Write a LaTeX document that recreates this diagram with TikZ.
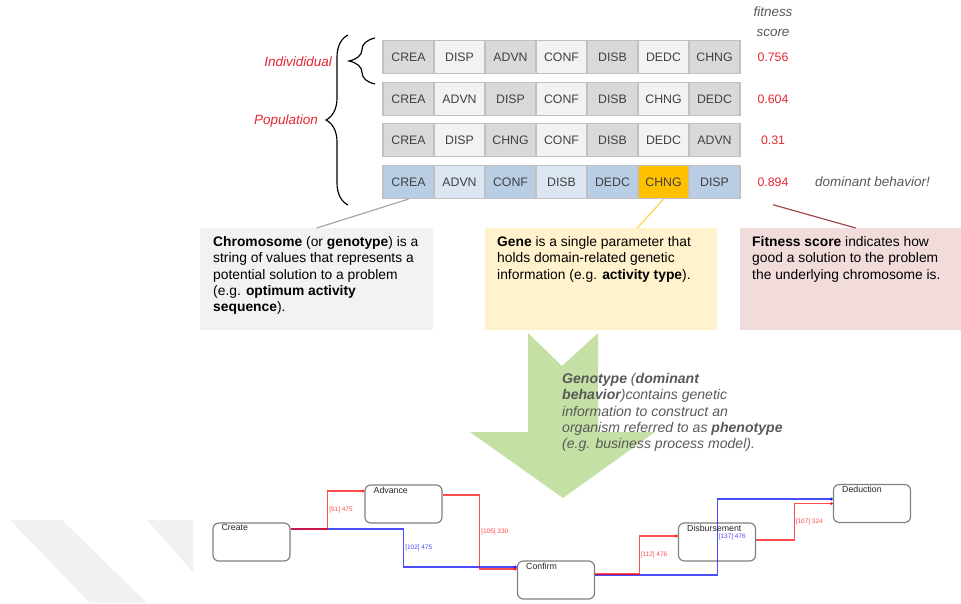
\documentclass[tikz,border=0pt]{standalone}
\usepackage{fontspec}
\setmainfont{Liberation Sans}
\usepackage{tikz}
\usetikzlibrary{positioning, decorations.pathreplacing, arrows.meta}
\definecolor{cdark}{HTML}{D9D9D9}
\definecolor{clight}{HTML}{F2F2F2}
\definecolor{cblue}{HTML}{B9CDE5}
\definecolor{cpale}{HTML}{DCE6F2}
\definecolor{corange}{HTML}{FFC000}
\definecolor{cellline}{HTML}{C0C0C0}
\definecolor{celltext}{HTML}{404040}
\definecolor{scorered}{RGB}{228,38,48}
\definecolor{notegray}{HTML}{595959}
\definecolor{chromfill}{HTML}{F2F2F2}
\definecolor{genefill}{HTML}{FFF2CC}
\definecolor{fitfill}{HTML}{F2DCDB}
\definecolor{geneline}{HTML}{FFD347}
\definecolor{fitline}{HTML}{A0454A}
\definecolor{arrowgreen}{RGB}{196,224,164}
\definecolor{actgray}{HTML}{808080}
\definecolor{stripe}{HTML}{F1F1F1}

\begin{document}
\begin{tikzpicture}[x=0.03cm, y=-0.03cm,
   cell/.style={draw=cellline, line width=1pt, minimum width=1.53cm, minimum height=0.99cm,
      inner sep=0pt, text=celltext, font=\fontsize{10.5}{12}\selectfont},
   score/.style={text=scorered, minimum height=0.99cm, inner sep=0pt, font=\fontsize{10.5}{12}\selectfont},
   note/.style={text=notegray, inner sep=0pt, font=\fontsize{11.5}{17}\selectfont\itshape},
   infobox/.style={anchor=north west, minimum height=3.06cm, inner sep=0pt},
   infotext/.style={anchor=north west, inner sep=0pt, align=left, font=\fontsize{11.8}{14}\selectfont},
   act/.style={draw=actgray, fill=white, line width=1pt, rounded corners=5pt,
      minimum width=2.31cm, minimum height=1.14cm, inner sep=0pt},
   actlbl/.style={anchor=north west, inner sep=0pt, xshift=.27cm, yshift=-.06cm,
      font=\fontsize{7.5}{8}\selectfont, text=black!85},
   flow/.style={line width=1pt, opacity=.7, -{Circle[length=2.5pt]}},
   flowlbl/.style={right, inner sep=1pt, font=\fontsize{5.5}{6}\selectfont},
   brace/.style={decorate, line width=1pt}]
\useasboundingbox (0,0) rectangle (961,603);

\fill[stripe] (10,520) -- (62,520) -- (147,603) -- (90,603) -- cycle;
\fill[stripe] (147,520) -- (193,520) -- (193,572) -- cycle;

\node[note, align=center] (fithead) at (773,22) {fitness\\score};

\foreach \g/\c [count=\i] in {CREA/cdark,DISP/clight,ADVN/cdark,CONF/clight,DISB/cdark,DEDC/clight,CHNG/cdark}
  \node[cell, fill=\c] (a\i) at ({357.5+51*\i},57) {\g};
\foreach \g/\c [count=\i] in {CREA/cdark,ADVN/clight,DISP/cdark,CONF/clight,DISB/cdark,CHNG/clight,DEDC/cdark}
  \node[cell, fill=\c] (b\i) at ({357.5+51*\i},99) {\g};
\foreach \g/\c [count=\i] in {CREA/cdark,DISP/clight,CHNG/cdark,CONF/clight,DISB/cdark,DEDC/clight,ADVN/cdark}
  \node[cell, fill=\c] (c\i) at ({357.5+51*\i},140) {\g};
\foreach \g/\c [count=\i] in {CREA/cblue,ADVN/cpale,CONF/cblue,DISB/cpale,DEDC/cblue,CHNG/corange,DISP/cblue}
  \node[cell, fill=\c] (d\i) at ({357.5+51*\i},182) {\g};

\node[score] (s1) at (773,57) {0.756};
\node[score] (s2) at (773,99) {0.604};
\node[score] (s3) at (773,140) {0.31};
\node[score] (s4) at (773,182) {0.894};
\node[note, anchor=west] (dominant) at (815,182) {dominant behavior!};

\draw[brace, decoration={brace, amplitude=.78cm, aspect=.5}] (375,84) -- (375,38);
\draw[brace, decoration={brace, amplitude=.66cm, aspect=.5}] (348,205) -- (348,35);
\node[note, text=scorered, anchor=east] (indiv) at (332,62) {Individidual};
\node[note, text=scorered, anchor=east] (popul) at (318,121) {Population};

\node[infobox, fill=chromfill, minimum width=6.99cm] (chrom) at (200,228) {};
\node[infobox, fill=genefill, minimum width=6.96cm] (gene) at (485,228) {};
\node[infobox, fill=fitfill, minimum width=6.63cm] (fit) at (740,228) {};
\node[infotext] (chromtxt) at (213,236) {\textbf{Chromosome} (or \textbf{genotype}) is a\\
   string of values that represents a\\potential solution to a problem\\
   (e.g. \textbf{optimum activity}\\\textbf{sequence}).};
\node[infotext] (genetxt) at (497,236) {\textbf{Gene} is a single parameter that\\
   holds domain-related genetic\\information (e.g. \textbf{activity type}).};
\node[infotext] (fittxt) at (752,236) {\textbf{Fitness score} indicates how\\
   good a solution to the problem\\the underlying chromosome is.};

\draw[gray!70, line width=1pt] (d1.south) -- (chrom.north);
\draw[geneline, line width=1pt] (d6.south) -- ([xshift=1.08cm]gene.north);
\draw[fitline, line width=1pt] ([yshift=-.18cm]s4.south) -- ([xshift=.15cm]fit.north);

\fill[arrowgreen] (528,333) -- (562,366) -- (598,333) -- (598,432) -- (655,432)
   -- (563,498) -- (470,432) -- (528,432) -- cycle;
\node[infotext, text=notegray, font=\fontsize{12}{13.9}\selectfont\itshape] (genotxt) at (562,373)
   {\textbf{Genotype} (\textbf{dominant}\\\textbf{behavior})contains genetic\\
   information to construct an\\organism referred to as \textbf{phenotype}\\
   (e.g. business process model).};

\node[act, label={[actlbl]north west:Create}] (create) at (251.5,542) {};
\node[act, label={[actlbl]north west:Advance}] (advance) at (403.5,504) {};
\node[act, label={[actlbl]north west:Confirm}] (confirm) at (556,580) {};
\node[act, label={[actlbl]north west:Disbursement}] (disb) at (717,542) {};
\node[act, label={[actlbl]north west:Deduction}] (deduct) at (872,503.5) {};

\draw[flow, blue] ([yshift=.39cm]create.east) -- ++(113,0)
   |- node[flowlbl, pos=.25] (l2) {[102] 475} ([yshift=.39cm]confirm.west);
\draw[flow, red] ([yshift=.39cm]create.east) -- ++(37,0)
   |- node[flowlbl, pos=.25] (l1) {[91] 475} ([yshift=.39cm]advance.west);
\draw[flow, red] ([yshift=.27cm]advance.east) -- ++(37,0)
   |- node[flowlbl, pos=.25] (l3) {[105] 330} ([yshift=.33cm]confirm.west);
\draw[flow, blue] ([yshift=.15cm]confirm.east) -- ++(122,0)
   |- node[flowlbl, pos=.25] (l5) {[137] 476} ([yshift=.135cm]deduct.west);
\draw[flow, red] ([yshift=.18cm]confirm.east) -- ++(44,0)
   |- node[flowlbl, pos=.25] (l4) {[112] 476} ([yshift=.18cm]disb.west);
\draw[flow, red] ([yshift=.06cm]disb.east) -- ++(38,0)
   |- node[flowlbl, pos=.25] (l6) {[107] 324} (deduct.west);
\end{tikzpicture}
\end{document}
